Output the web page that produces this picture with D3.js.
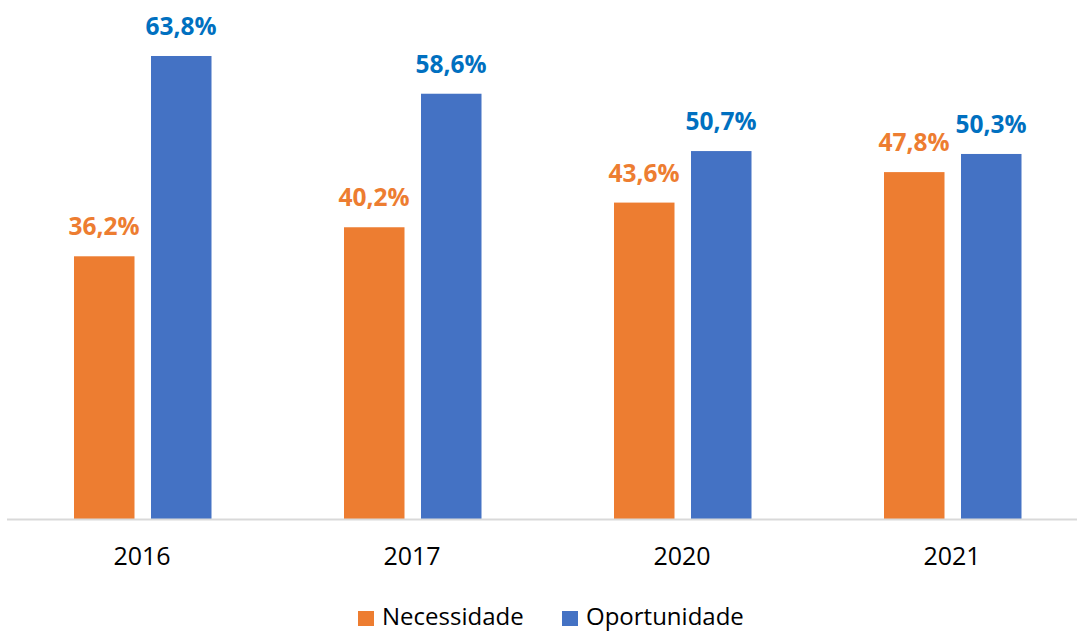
<!DOCTYPE html>
<html>
<head>
<meta charset="utf-8">
<script src="https://cdn.jsdelivr.net/npm/d3@7"></script>
<style>
  body { margin: 0; background: #fff; }
  text { font-family: "Open Sans", "Noto Sans", sans-serif; }
</style>
</head>
<body>
<div id="chart"></div>
<script>
const width = 1077,
  height = 632;

const years = ['2016', '2017', '2020', '2021'];
const seriesNames = ['Necessidade', 'Oportunidade'];
const necessidade = [36.2, 40.2, 43.6, 47.8];
const oportunidade = [63.8, 58.6, 50.7, 50.3];

const barColor = { Necessidade: '#ED7D31', Oportunidade: '#4472C4' };
const labelColor = { Necessidade: '#ED7D31', Oportunidade: '#0070C0' };

// rows built from the arrays above
let rows = years.map((y, i) => ({
  year: y,
  Necessidade: necessidade[i],
  Oportunidade: oportunidade[i]
}));

let svg = d3.select('#chart').append('svg')
  .attr('width', width)
  .attr('height', height);

let x0 = d3.scaleBand()
  .domain(years)
  .range([7, 1087])
  .paddingInner(0)
  .paddingOuter(0);

let x1 = d3.scaleBand()
  .domain(seriesNames)
  .range([67, 221]);

let y = d3.scaleLinear()
  .domain([0, 70])
  .range([519, 11]);

let groups = svg.append('g')
  .selectAll('g')
  .data(rows)
  .enter().append('g')
    .attr('transform', d => 'translate(' + x0(d.year) + ',0)');

groups.selectAll('rect')
  .data(d => seriesNames.map(k => ({ key: k, value: d[k] })))
  .enter().append('rect')
    .attr('x', d => x1(d.key))
    .attr('width', 60.5)
    .attr('y', d => y(d.value))
    .attr('height', d => y(0) - y(d.value))
    .style('fill', d => barColor[d.key]);

groups.selectAll('text.val')
  .data(d => seriesNames.map(k => ({ key: k, value: d[k] })))
  .enter().append('text')
    .attr('class', 'val')
    .attr('x', d => x1(d.key) + 30)
    .attr('y', d => y(d.value) - 21)
    .attr('text-anchor', 'middle')
    .style('font-size', '24.5px')
    .style('font-weight', 'bold')
    .style('fill', d => labelColor[d.key])
    .text(d => d3.format('.1f')(d.value).replace('.', ',') + '%');

// x axis
let xAxis = d3.axisBottom(x0).tickSize(0).tickPadding(28);
let ax = svg.append('g')
  .attr('transform', 'translate(0,' + y(0) + ')')
  .call(xAxis);
ax.select('.domain').attr('d', 'M7,0.5H1077').style('stroke', '#d9d9d9').style('stroke-width', 2);
ax.selectAll('text')
  .style('font-size', '25px')
  .style('fill', '#000')
  .style('font-family', '"Open Sans", sans-serif');

// legend
let legendX = [358, 562];
let legend = svg.append('g')
  .selectAll('g')
  .data(seriesNames)
  .enter().append('g')
    .attr('transform', (d, i) => 'translate(' + legendX[i] + ',611)');

legend.append('rect')
  .attr('width', 16)
  .attr('height', 15)
  .style('fill', d => barColor[d]);

legend.append('text')
  .attr('x', 24)
  .attr('y', 14)
  .style('font-size', '24px')
  .style('fill', '#000')
  .text(d => d);
</script>
</body>
</html>
